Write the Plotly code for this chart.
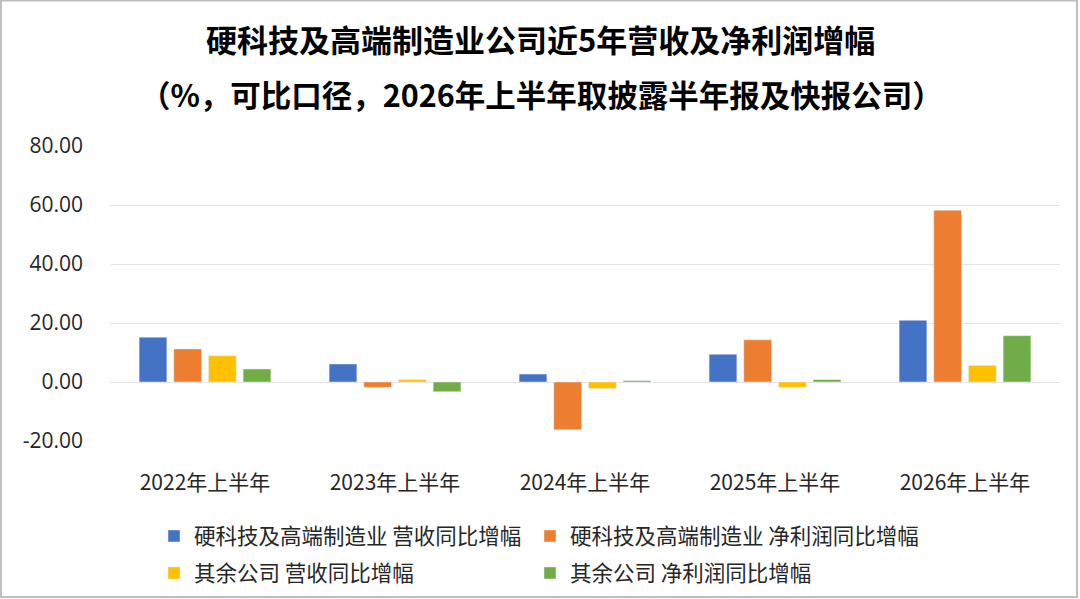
import plotly.graph_objects as go

categories = ["2022年上半年", "2023年上半年", "2024年上半年", "2025年上半年", "2026年上半年"]
hard_rev = [15.2, 6.1, 2.7, 9.4, 20.9]
hard_profit = [11.2, -1.8, -16.2, 14.3, 58.2]
other_rev = [8.9, 0.8, -2.2, -1.8, 5.6]
other_profit = [4.4, -3.3, 0.45, 0.8, 15.7]
series_names = ["硬科技及高端制造业 营收同比增幅", "硬科技及高端制造业 净利润同比增幅",
                "其余公司 营收同比增幅", "其余公司 净利润同比增幅"]
colors = ["#4472C4", "#ED7D31", "#FFC000", "#70AD47"]
tick_vals = [-20, 0, 20, 40, 60, 80]
tick_text = ["-20.00", "0.00", "20.00", "40.00", "60.00", "80.00"]

FONT = "Noto Sans CJK SC"
W, H = 1080, 599
ML, MR, MT, MB = 110, 20, 146, 158
PW = W - ML - MR
PH = H - MT - MB

def px_x(p):
    return (p - ML) / PW

def px_y(p):
    return (H - MB - p) / PH

legend_ids = ["legend", "legend2", "legend3", "legend4"]
legend_pos = [(154, 536), (530, 536), (154, 573), (530, 573)]

fig = go.Figure()
for i, (name, vals) in enumerate(zip(series_names, [hard_rev, hard_profit, other_rev, other_profit])):
    fig.add_trace(go.Bar(
        x=categories, y=vals, name=name, marker_color=colors[i],
        legend=legend_ids[i],
    ))

legend_layout = {}
for lid, (lx, ly) in zip(legend_ids, legend_pos):
    legend_layout[lid] = dict(orientation="h", x=px_x(lx), y=px_y(ly), xanchor="left", yanchor="middle",
                              font=dict(family=FONT, size=21.5, color="#262626"),
                              bgcolor="rgba(0,0,0,0)", borderwidth=0)

fig.update_layout(
    width=W, height=H,
    margin=dict(l=ML, r=MR, t=MT, b=MB, autoexpand=False),
    paper_bgcolor="white", plot_bgcolor="white",
    font=dict(family=FONT, size=21, color="#262626"),
    barmode="group", bargap=0.27, bargroupgap=0.2,
    showlegend=True,
    xaxis=dict(showgrid=False, showline=False, ticks="", ticklabelstandoff=27,
               tickfont=dict(family=FONT, size=21, color="#262626")),
    yaxis=dict(range=[-20, 80], tickvals=tick_vals, ticktext=tick_text,
               showgrid=True, gridcolor="#E3E3E3", gridwidth=1,
               zeroline=True, zerolinecolor="#E3E3E3", zerolinewidth=1,
               showline=False, ticks="", ticklabelstandoff=26,
               tickfont=dict(family="Open Sans", size=21, color="#262626")),
    annotations=[
        dict(text="<b>硬科技及高端制造业公司近5年营收及净利润增幅</b>", xref="paper", yref="paper",
             x=px_x(540), y=px_y(38), xanchor="center", yanchor="middle", showarrow=False,
             font=dict(family=FONT, size=31, color="#000000")),
        dict(text="<b>（%，可比口径，2026年上半年取披露半年报及快报公司）</b>", xref="paper", yref="paper",
             x=px_x(541), y=px_y(94), xanchor="center", yanchor="middle", showarrow=False,
             font=dict(family=FONT, size=30.5, color="#000000")),
    ],
    shapes=[
        dict(type="rect", xref="paper", yref="paper", x0=px_x(1), x1=px_x(1077), y0=px_y(597), y1=px_y(0.5),
             line=dict(color="#BEBEBE", width=2), fillcolor="rgba(0,0,0,0)", layer="below"),
    ],
)
fig.update_layout(**legend_layout)

fig.write_html("out.html", config={"displayModeBar": False},
               post_script="document.body.style.margin='0';document.body.style.overflow='hidden';")
